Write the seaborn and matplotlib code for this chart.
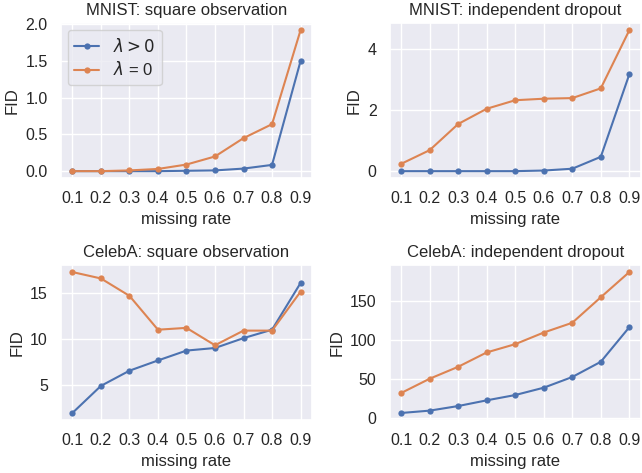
import numpy as np
import pandas as pd
import matplotlib
matplotlib.use("Agg")
import matplotlib.pyplot as plt
import seaborn as sns

rates = [0.1, 0.2, 0.3, 0.4, 0.5, 0.6, 0.7, 0.8, 0.9]
labels = [r"$\lambda > 0$", r"$\lambda$ = 0"]
titles = ["MNIST: square observation", "MNIST: independent dropout",
          "CelebA: square observation", "CelebA: independent dropout"]

mnist_sq_pos = [0.0, 0.0, 0.0, 0.0, 0.005, 0.01, 0.035, 0.085, 1.50]
mnist_sq_zero = [0.0, 0.0, 0.01, 0.03, 0.09, 0.20, 0.45, 0.64, 1.92]
mnist_ind_pos = [0.0, 0.0, 0.0, 0.0, 0.0, 0.02, 0.08, 0.47, 3.18]
mnist_ind_zero = [0.24, 0.69, 1.55, 2.05, 2.33, 2.38, 2.40, 2.72, 4.63]
celeba_sq_pos = [1.9, 4.86, 6.52, 7.64, 8.72, 9.0, 10.08, 11.0, 16.1]
celeba_sq_zero = [17.3, 16.6, 14.7, 11.0, 11.2, 9.3, 10.9, 10.9, 15.15]
celeba_ind_pos = [6.4, 9.4, 15.3, 22.6, 29.4, 38.8, 52.5, 72.0, 116.3]
celeba_ind_zero = [32.0, 50.3, 65.6, 84.0, 94.6, 109.5, 122.0, 154.7, 187.0]

series = [(mnist_sq_pos, mnist_sq_zero), (mnist_ind_pos, mnist_ind_zero),
          (celeba_sq_pos, celeba_sq_zero), (celeba_ind_pos, celeba_ind_zero)]

sns.set_theme(style="darkgrid")
plt.rcParams['font.family'] = ['Liberation Sans', 'DejaVu Sans']

fig, axes = plt.subplots(2, 2, figsize=(6.42, 4.73), dpi=100)
fig.subplots_adjust(left=0.095, right=0.998, top=0.951, bottom=0.112,
                    wspace=0.31, hspace=0.56)

for ax, title, (pos, zero) in zip(axes.flat, titles, series):
    df = pd.DataFrame({
        "missing rate": rates * 2,
        "FID": list(pos) + list(zero),
        "setting": [labels[0]] * len(rates) + [labels[1]] * len(rates),
    })
    sns.lineplot(data=df, x="missing rate", y="FID", hue="setting",
                 marker="o", markersize=4.5, markeredgewidth=0, linewidth=1.5,
                 ax=ax, legend=(ax is axes[0, 0]))
    ax.set_xticks(rates)
    ax.set_xticklabels([f"{r:.1f}" for r in rates])
    ax.set_title(title, fontsize=12)
    ax.set_xlabel("missing rate", fontsize=12)
    ax.set_ylabel("FID", fontsize=12, labelpad=4)
    ax.tick_params(labelsize=11.5)

axes[0, 0].set_yticks([0.0, 0.5, 1.0, 1.5, 2.0])
axes[0, 0].set_yticklabels(["0.0", "0.5", "1.0", "1.5", "2.0"])
axes[0, 1].set_yticks([0, 2, 4])
axes[1, 0].set_yticks([5, 10, 15])
axes[1, 1].set_yticks([0, 50, 100, 150])

axes[0, 0].legend(loc="upper left", fontsize=12, handlelength=1.5,
                  labelspacing=0.35, borderaxespad=0.4)

fig.savefig("out.png", dpi=100)
